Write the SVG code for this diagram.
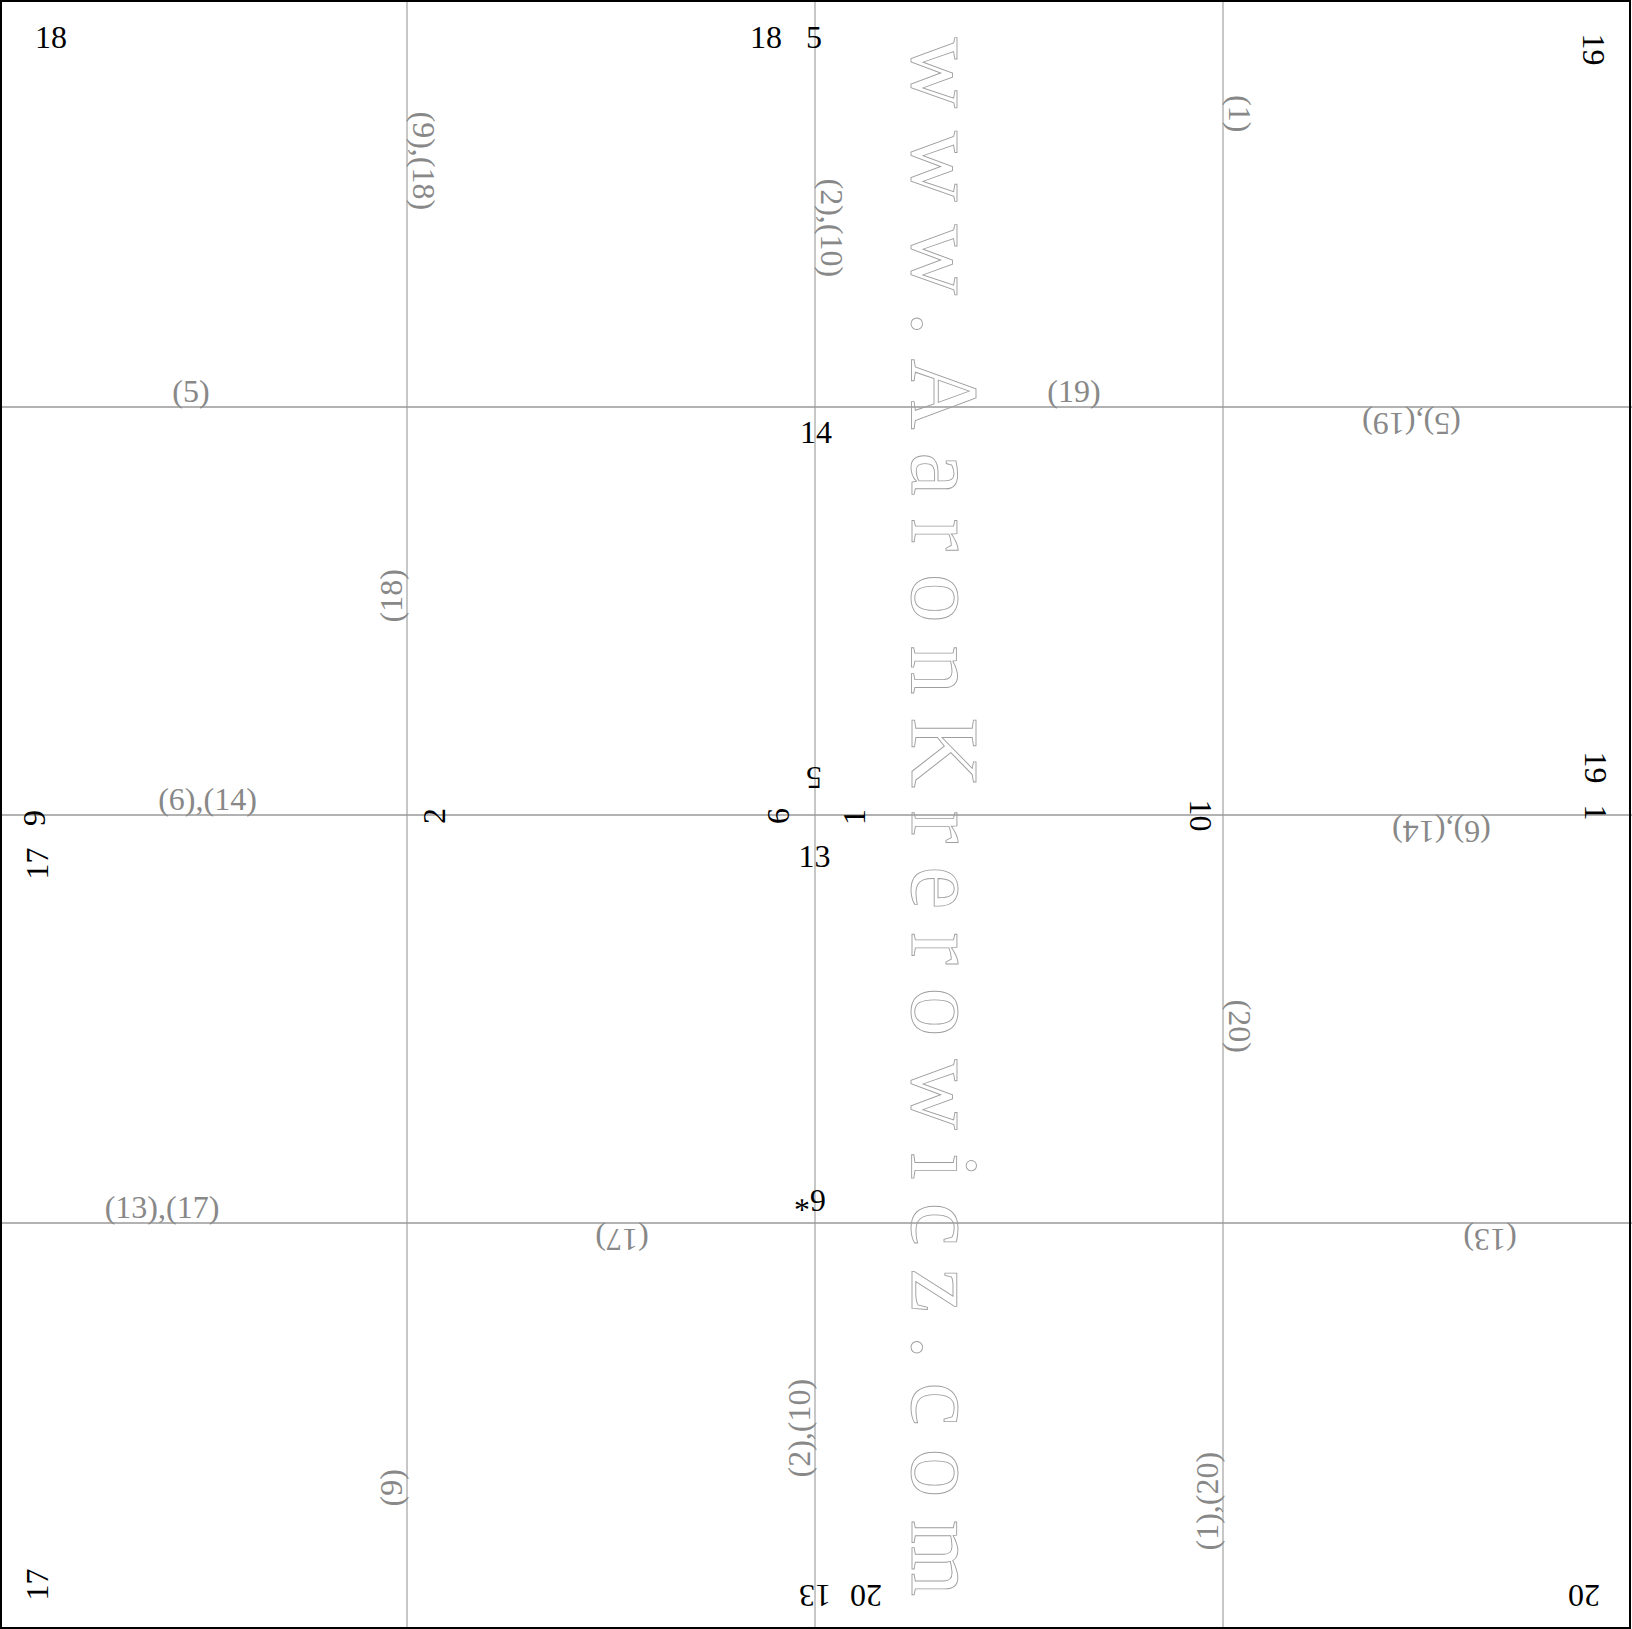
<svg xmlns="http://www.w3.org/2000/svg" width="1632" height="1629" viewBox="0 0 1632 1629">
<style>
.v{font-family:"Liberation Serif","Times New Roman",serif;font-size:32px;fill:#000}
.e{font-family:"Liberation Serif","Times New Roman",serif;font-size:32px;fill:#888}
.m{text-anchor:middle}
.gv{stroke:#b5b5b5;stroke-width:1.5}
.gh{stroke:#999;stroke-width:1.5}
.wm{font-family:"Liberation Serif","Times New Roman",serif;font-size:98px;fill:none;stroke:#9e9e9e;stroke-width:0.9;letter-spacing:22.7px}
</style>
<rect width="1632" height="1629" fill="#fff"/>
<g id="grid">
<line class="gv" x1="407" y1="0" x2="407" y2="1629"/>
<line class="gv" x1="815" y1="0" x2="815" y2="1629"/>
<line class="gv" x1="1223" y1="0" x2="1223" y2="1629"/>
<line class="gh" x1="0" y1="407" x2="1632" y2="407"/>
<line class="gh" x1="0" y1="815" x2="1632" y2="815"/>
<line class="gh" x1="0" y1="1223" x2="1632" y2="1223"/>
<rect x="1" y="1" width="1629" height="1627" fill="none" stroke="#000" stroke-width="2"/>
</g>
<g id="watermark">
<text class="wm" x="37.5" y="0" transform="translate(911.5,0) rotate(90)">www.AaronKrerowicz.com</text>
</g>
<g id="vertex-labels">
<text class="v" x="35" y="48">18</text>
<text class="v" x="750" y="48">18</text>
<text class="v" x="806" y="48">5</text>
<text class="v" x="800" y="443">14</text>
<text class="v" x="798.5" y="867">13</text>
<text class="v" transform="translate(822,767) rotate(180)">5</text>
<text class="v" transform="translate(826,1190) rotate(180)">6*</text>
<text class="v" transform="translate(831,1585) rotate(180)">13</text>
<text class="v" transform="translate(882,1585) rotate(180)">20</text>
<text class="v" transform="translate(1600,1585) rotate(180)">20</text>
<text class="v" transform="translate(1583,33.5) rotate(90)">19</text>
<text class="v" transform="translate(1585,751.5) rotate(90)">19</text>
<text class="v" transform="translate(1585,804.5) rotate(90)">1</text>
<text class="v" transform="translate(1190,799.5) rotate(90)">10</text>
<text class="v" transform="translate(48,879.5) rotate(-90)">17</text>
<text class="v" transform="translate(45,826) rotate(-90)">9</text>
<text class="v" transform="translate(48,1600.5) rotate(-90)">17</text>
<text class="v" transform="translate(445,824) rotate(-90)">2</text>
<text class="v" transform="translate(789,824) rotate(-90)">6</text>
<text class="v" transform="translate(865,825) rotate(-90)">1</text>
</g>
<g id="edge-labels">
<text class="e m" x="191" y="401.5">(5)</text>
<text class="e m" x="1074" y="401.5">(19)</text>
<text class="e m" x="207.5" y="809.5">(6),(14)</text>
<text class="e m" x="162" y="1217.5">(13),(17)</text>
<text class="e m" transform="translate(1411.5,413) rotate(180)">(5),(19)</text>
<text class="e m" transform="translate(1441.5,821) rotate(180)">(6),(14)</text>
<text class="e m" transform="translate(622,1229) rotate(180)">(17)</text>
<text class="e m" transform="translate(1490,1229) rotate(180)">(13)</text>
<text class="e" transform="translate(412.5,111.5) rotate(90)">(9),(18)</text>
<text class="e" transform="translate(820.5,178.5) rotate(90)">(2),(10)</text>
<text class="e" transform="translate(1228.5,95) rotate(90)">(1)</text>
<text class="e" transform="translate(1228.5,999.5) rotate(90)">(20)</text>
<text class="e" transform="translate(401.5,622.5) rotate(-90)">(18)</text>
<text class="e" transform="translate(809.5,1477.5) rotate(-90)">(2),(10)</text>
<text class="e" transform="translate(401.5,1506.5) rotate(-90)">(9)</text>
<text class="e" transform="translate(1217.5,1550.5) rotate(-90)">(1),(20)</text>
</g>
</svg>
